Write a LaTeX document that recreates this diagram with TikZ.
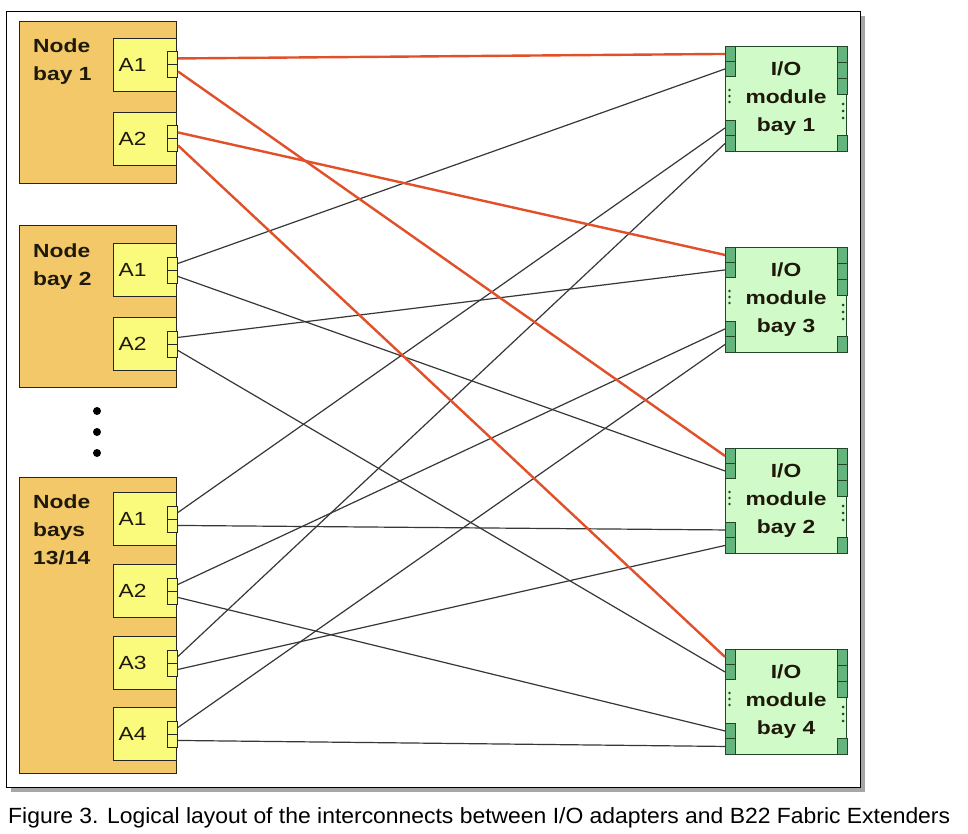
\documentclass[tikz,border=0pt]{standalone}
\usepackage{graphicx}
\usepackage{fontspec}
\setmainfont{Liberation Sans}
\newfontfamily\diafont{Liberation Sans}[FakeStretch=1.2]
\usepackage{tikz}
\usetikzlibrary{shadows}

\begin{document}
\begin{tikzpicture}[x=1pt, y=-1pt,
  every node/.style={inner sep=0pt, text=textDark, font=\diafont\fontsize{19}{28}\selectfont},
  nodebay/.style={draw=bayBorder, fill=bayFill, line width=1.3pt, minimum width=157pt, anchor=north west},
  baytext/.style={anchor=north west, align=left, font=\diafont\bfseries\fontsize{19}{28}\selectfont},
  adapter/.style={draw=black!85, fill=adapterFill, line width=1.1pt, minimum height=53pt, text width=53pt, inner xsep=5pt, align=left, anchor=north west},
  adport/.style={draw=black!85, fill=adapterFill, line width=0.9pt, minimum width=10pt, minimum height=13pt, anchor=north west},
  iomod/.style={draw=ioBorder, fill=ioFill, line width=1.1pt, minimum width=121pt, minimum height=105pt, text width=111pt, align=center, anchor=north west, font=\diafont\bfseries\fontsize{19}{28}\selectfont},
  ioport/.style={draw=ioBorder, fill=portGreen, line width=0.9pt, minimum width=10pt, minimum height=15pt, anchor=north west},
  redlink/.style={draw=redLink, line width=2.4pt},
  greylink/.style={draw=greyLink, line width=1.2pt}]

% Colores
\definecolor{bayFill}{RGB}{242,200,105}
\definecolor{bayBorder}{RGB}{45,35,15}
\definecolor{adapterFill}{RGB}{250,250,125}
\definecolor{ioFill}{RGB}{208,250,200}
\definecolor{ioBorder}{RGB}{35,70,40}
\definecolor{portGreen}{RGB}{100,180,125}
\definecolor{redLink}{RGB}{225,80,40}
\definecolor{greyLink}{RGB}{55,55,55}
\definecolor{textDark}{RGB}{30,25,10}

\useasboundingbox (0,0) rectangle (968,834);

% Marco
\node[draw=black, fill=white, line width=1.3pt, minimum width=854pt, minimum height=776pt, anchor=north west,
  drop shadow={shadow xshift=4pt, shadow yshift=-4pt, opacity=0.35, fill=black}] (frame) at (6,11) {};

% Node bay 1
\node[nodebay, minimum height=162pt] (NB1) at (19,21) {};
\node[baytext] (NB1t) at (33,38.5) {Node\\bay 1};
\node[adapter] (N1A1) at (113,38) {A1};
\node[adapter] (N1A2) at (113,112) {A2};

% Node bay 2
\node[nodebay, minimum height=162pt] (NB2) at (19,225) {};
\node[baytext] (NB2t) at (33,243.5) {Node\\bay 2};
\node[adapter] (N2A1) at (113,243) {A1};
\node[adapter] (N2A2) at (113,317) {A2};

% puntos
\fill[black] (97,411) circle (4pt);
\fill[black] (97,432) circle (4pt);
\fill[black] (97,453) circle (4pt);

% Node bays 13/14
\node[nodebay, minimum height=296pt] (NB13) at (19,477) {};
\node[baytext] (NB13t) at (33,494.5) {Node\\bays\\13/14};
\node[adapter] (N13A1) at (113,492) {A1};
\node[adapter] (N13A2) at (113,564) {A2};
\node[adapter] (N13A3) at (113,636) {A3};
\node[adapter] (N13A4) at (113,707) {A4};

% puertos de los adaptadores
\foreach \a in {N1A1,N1A2,N2A1,N2A2,N13A1,N13A2,N13A3,N13A4} {
  \node[adport] (\a-p1) at ([shift={(-10,13.5)}]\a.north east) {};
  \node[adport] (\a-p2) at ([shift={(-10,26.5)}]\a.north east) {};
}

% I/O modules
\node[iomod] (IO1) at (725,46) {I/O\\module\\bay 1};
\node[iomod] (IO3) at (725,247) {I/O\\module\\bay 3};
\node[iomod] (IO2) at (725,448) {I/O\\module\\bay 2};
\node[iomod] (IO4) at (725,649) {I/O\\module\\bay 4};

\foreach \m in {IO1,IO2,IO3,IO4} {
  \node[ioport] (\m-p1) at (\m.north west) {};
  \node[ioport] (\m-p2) at ([shift={(0,15)}]\m.north west) {};
  \node[ioport] (\m-p3) at ([shift={(0,74)}]\m.north west) {};
  \node[ioport, minimum height=16pt] (\m-p4) at ([shift={(0,89)}]\m.north west) {};
  \node[ioport, minimum height=16pt] (\m-r1) at ([shift={(-10,0)}]\m.north east) {};
  \node[ioport, minimum height=16pt] (\m-r2) at ([shift={(-10,16)}]\m.north east) {};
  \node[ioport, minimum height=16pt] (\m-r3) at ([shift={(-10,32)}]\m.north east) {};
  \node[ioport, minimum height=16pt] (\m-r4) at ([shift={(-10,89)}]\m.north east) {};
  \foreach \d in {44,50,56} \fill[ioBorder] ([shift={(4.5,\d)}]\m.north west) circle (1.4pt);
  \foreach \d in {58,65,72} \fill[ioBorder] ([shift={(-4,\d)}]\m.north east) circle (1.4pt);
}

% Conexiones grises
\draw[greylink] (N2A1-p1.east) -- (IO1-p2.west);
\draw[greylink] (N2A1-p2.east) -- (IO2-p2.west);
\draw[greylink] (N2A2-p1.east) -- (IO3-p2.west);
\draw[greylink] (N2A2-p2.east) -- (IO4-p2.west);

\draw[greylink] (N13A1-p1.east) -- (IO1-p3.west);
\draw[greylink] (N13A1-p2.east) -- (IO2-p3.west);
\draw[greylink] (N13A2-p1.east) -- (IO3-p3.west);
\draw[greylink] (N13A2-p2.east) -- (IO4-p3.west);
\draw[greylink] (N13A3-p1.east) -- (IO1-p4.west);
\draw[greylink] (N13A3-p2.east) -- (IO2-p4.west);
\draw[greylink] (N13A4-p1.east) -- (IO3-p4.west);
\draw[greylink] (N13A4-p2.east) -- (IO4-p4.west);

% Conexiones rojas (node bay 1)
\draw[redlink] (N1A1-p1.east) -- (IO1-p1.west);
\draw[redlink] (N1A1-p2.east) -- (IO2-p1.west);
\draw[redlink] (N1A2-p1.east) -- (IO3-p1.west);
\draw[redlink] (N1A2-p2.east) -- (IO4-p1.west);

% Pie de figura
\node[anchor=base west, text=black, font=\fontsize{22}{26}\selectfont] (caption) at (8,823)
  {\resizebox{942pt}{\height}{Figure 3. Logical layout of the interconnects between I/O adapters and B22 Fabric Extenders}};

\end{tikzpicture}
\end{document}
